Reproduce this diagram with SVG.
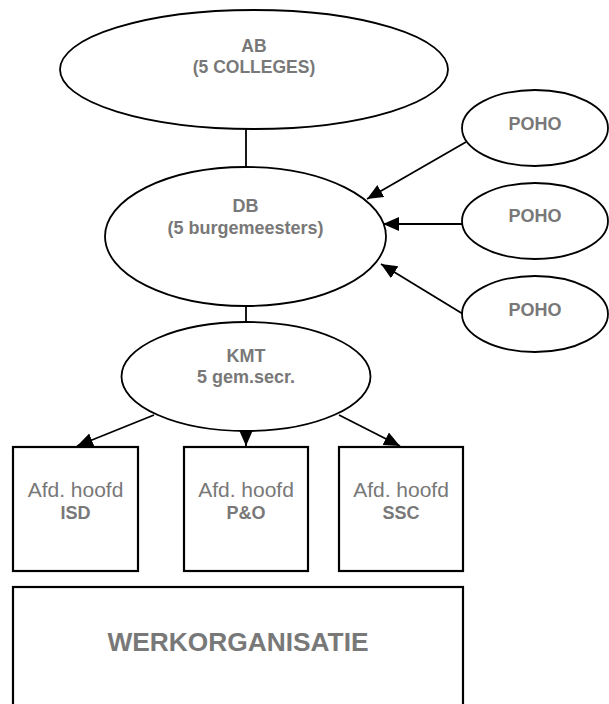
<svg xmlns="http://www.w3.org/2000/svg" width="609" height="704" viewBox="0 0 609 704">
  <style>
    .shape { fill: #ffffff; stroke: #000000; stroke-width: 1.8; }
    .box { fill: #ffffff; stroke: #000000; stroke-width: 2.2; }
    .lbl { font-family: "Liberation Sans", Arial, sans-serif; font-weight: bold; font-size: 18px; fill: #787878; text-anchor: middle; }
    .sm { font-size: 17.5px; }
    .reg { font-weight: normal; font-size: 21px; }
    .big { font-size: 26.3px; }
    .edge { fill: none; stroke: #000000; stroke-width: 1.8; }
  </style>
  <defs>
    <marker id="arrow" markerUnits="userSpaceOnUse" markerWidth="17" markerHeight="15" refX="16" refY="7" orient="auto">
      <path d="M0,0 L16,7 L0,14 z" fill="#000000"/>
    </marker>
  </defs>

  <!-- connectors -->
  <g id="connectors">
    <line class="edge" x1="246" y1="129" x2="246" y2="167"/>
    <line class="edge" x1="246" y1="306" x2="246" y2="322"/>
    <line class="edge" x1="466" y1="142" x2="367" y2="199" marker-end="url(#arrow)"/>
    <line class="edge" x1="462" y1="224" x2="383" y2="224" marker-end="url(#arrow)"/>
    <line class="edge" x1="463" y1="314" x2="381" y2="264" marker-end="url(#arrow)"/>
    <line class="edge" x1="154" y1="415" x2="77" y2="446" marker-end="url(#arrow)"/>
    <line class="edge" x1="246" y1="428" x2="246" y2="446" marker-end="url(#arrow)"/>
    <line class="edge" x1="339" y1="415" x2="400" y2="446" marker-end="url(#arrow)"/>
  </g>

  <g id="ab">
    <ellipse class="shape" cx="254" cy="69.5" rx="194" ry="59.5"/>
    <text class="lbl sm" x="254" y="52">AB</text>
    <text class="lbl sm" x="254" y="73">(5 COLLEGES)</text>
  </g>

  <g id="db">
    <ellipse class="shape" cx="245.5" cy="236.5" rx="140.5" ry="69.5"/>
    <text class="lbl" x="245.5" y="212">DB</text>
    <text class="lbl" x="245.5" y="234">(5 burgemeesters)</text>
  </g>

  <g id="kmt">
    <ellipse class="shape" cx="246" cy="376.5" rx="124.5" ry="54.5"/>
    <text class="lbl" x="246" y="362">KMT</text>
    <text class="lbl" x="246" y="383">5 gem.secr.</text>
  </g>

  <g id="poho1">
    <ellipse class="shape" cx="535" cy="128" rx="73" ry="38"/>
    <text class="lbl" x="535" y="129.5">POHO</text>
  </g>
  <g id="poho2">
    <ellipse class="shape" cx="535" cy="221" rx="73" ry="38"/>
    <text class="lbl" x="535" y="222">POHO</text>
  </g>
  <g id="poho3">
    <ellipse class="shape" cx="535" cy="314" rx="73" ry="38"/>
    <text class="lbl" x="535" y="316">POHO</text>
  </g>

  <g id="isd">
    <rect class="box" x="13" y="447" width="125" height="124"/>
    <text class="lbl reg" x="75.5" y="496.5">Afd. hoofd</text>
    <text class="lbl" x="75.5" y="519">ISD</text>
  </g>
  <g id="po">
    <rect class="box" x="184" y="447" width="124" height="124"/>
    <text class="lbl reg" x="246" y="496.5">Afd. hoofd</text>
    <text class="lbl" x="246" y="519">P&amp;O</text>
  </g>
  <g id="ssc">
    <rect class="box" x="339" y="447" width="124" height="124"/>
    <text class="lbl reg" x="401" y="496.5">Afd. hoofd</text>
    <text class="lbl" x="401" y="519">SSC</text>
  </g>

  <g id="werkorganisatie">
    <rect class="box" x="13" y="587" width="450" height="130"/>
    <text class="lbl big" x="238" y="651">WERKORGANISATIE</text>
  </g>
</svg>
